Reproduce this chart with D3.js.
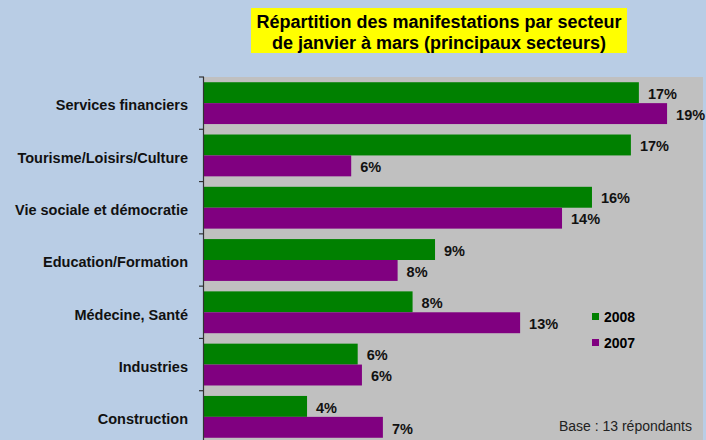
<!DOCTYPE html>
<html>
<head>
<meta charset="utf-8">
<script src="https://cdn.jsdelivr.net/npm/d3@7"></script>
<style>
  html, body { margin: 0; padding: 0; background: #B9CDE5; }
  svg { display: block; font-family: "Liberation Sans", Arial, sans-serif; }
</style>
</head>
<body>
<svg id="chart" width="706" height="440"></svg>
<script>
const categories = ["Services financiers", "Tourisme/Loisirs/Culture", "Vie sociale et démocratie",
  "Education/Formation", "Médecine, Santé", "Industries", "Construction"];
const seriesNames = ["2008", "2007"];
const values2008 = [0.1743, 0.1711, 0.1555, 0.0926, 0.0836, 0.0616, 0.0413];
const values2007 = [0.1856, 0.0590, 0.1435, 0.0776, 0.1267, 0.0633, 0.0717];
const seriesColors = ["#008000", "#800080"];
const titleLines = ["Répartition des manifestations par secteur", "de janvier à mars (principaux secteurs)"];
const baseNote = "Base : 13 répondants";

const svg = d3.select("#chart");
const W = 706, H = 440;
const plot = { left: 204, right: 703, top: 77, bottom: 443 };

svg.append("rect").attr("width", W).attr("height", H).attr("fill", "#B9CDE5");

// Title
const tg = svg.append("g");
tg.append("rect").attr("x", 251).attr("y", 8).attr("width", 376).attr("height", 45).attr("fill", "#FFFF00");
tg.selectAll("text").data(titleLines).join("text")
  .attr("x", 439).attr("y", (d, i) => 27.5 + i * 21.5)
  .attr("text-anchor", "middle")
  .attr("font-size", 18).attr("font-weight", "bold").attr("fill", "#000")
  .text(d => d);

// Plot area
svg.append("rect").attr("x", plot.left).attr("y", plot.top)
  .attr("width", plot.right - plot.left).attr("height", plot.bottom - plot.top)
  .attr("fill", "#C0C0C0");

const x = d3.scaleLinear().domain([0, 0.20]).range([plot.left, plot.right]);
const y = d3.scaleBand().domain(categories).range([plot.top, plot.bottom])
  .paddingInner(0.2).paddingOuter(0.1);
const ys = d3.scaleBand().domain(seriesNames).range([0, y.bandwidth()]);

const rows = categories.map((c, i) => ({ cat: c, vals: [values2008[i], values2007[i]] }));

const g = svg.append("g");
const rowG = g.selectAll("g.row").data(rows).join("g").attr("class", "row")
  .attr("transform", d => `translate(0,${y(d.cat)})`);

rowG.selectAll("rect").data(d => d.vals.map((v, j) => ({ v, s: seriesNames[j], j })))
  .join("rect")
  .attr("x", x(0)).attr("y", d => ys(d.s))
  .attr("width", d => x(d.v) - x(0)).attr("height", ys.bandwidth())
  .attr("fill", d => seriesColors[d.j]);

const fmt = d3.format(".0%");
rowG.selectAll("text").data(d => d.vals.map((v, j) => ({ v, s: seriesNames[j], j })))
  .join("text")
  .attr("x", d => x(d.v) + 9).attr("y", d => ys(d.s) + ys.bandwidth() / 2 + 1)
  .attr("dy", "0.36em")
  .attr("font-size", 14.5).attr("font-weight", "bold").attr("fill", "#111")
  .text(d => fmt(d.v));

// Y axis (ticks between categories)
const step = y.step();
const boundaries = categories.map(c => y(c) - y.paddingOuter() * step).concat([plot.bottom]);
const axis = svg.append("g").attr("stroke", "#333").attr("stroke-width", 1.2);
axis.append("line").attr("x1", plot.left - 0.5).attr("x2", plot.left - 0.5)
  .attr("y1", plot.top).attr("y2", plot.bottom);
axis.selectAll("line.tick").data(boundaries).join("line").attr("class", "tick")
  .attr("x1", plot.left - 5).attr("x2", plot.left).attr("y1", d => d).attr("y2", d => d);

svg.append("g").selectAll("text").data(categories).join("text")
  .attr("x", 188).attr("y", d => y(d) + y.bandwidth() / 2 + 2)
  .attr("dy", "0.36em").attr("text-anchor", "end")
  .attr("font-size", 14.5).attr("font-weight", "bold").attr("fill", "#111")
  .text(d => d);

// Legend
const lg = svg.append("g").attr("transform", "translate(592,313)");
const li = lg.selectAll("g").data(seriesNames).join("g")
  .attr("transform", (d, i) => `translate(0,${i * 26})`);
li.append("rect").attr("width", 7).attr("height", 7).attr("fill", (d, i) => seriesColors[i]);
li.append("text").attr("x", 12).attr("y", 4).attr("dy", "0.36em")
  .attr("font-size", 14).attr("font-weight", "bold").attr("fill", "#000").text(d => d);

// Base note
svg.append("text").attr("x", 692).attr("y", 426).attr("dy", "0.36em")
  .attr("text-anchor", "end").attr("font-size", 14).attr("fill", "#222").text(baseNote);
</script>
</body>
</html>
